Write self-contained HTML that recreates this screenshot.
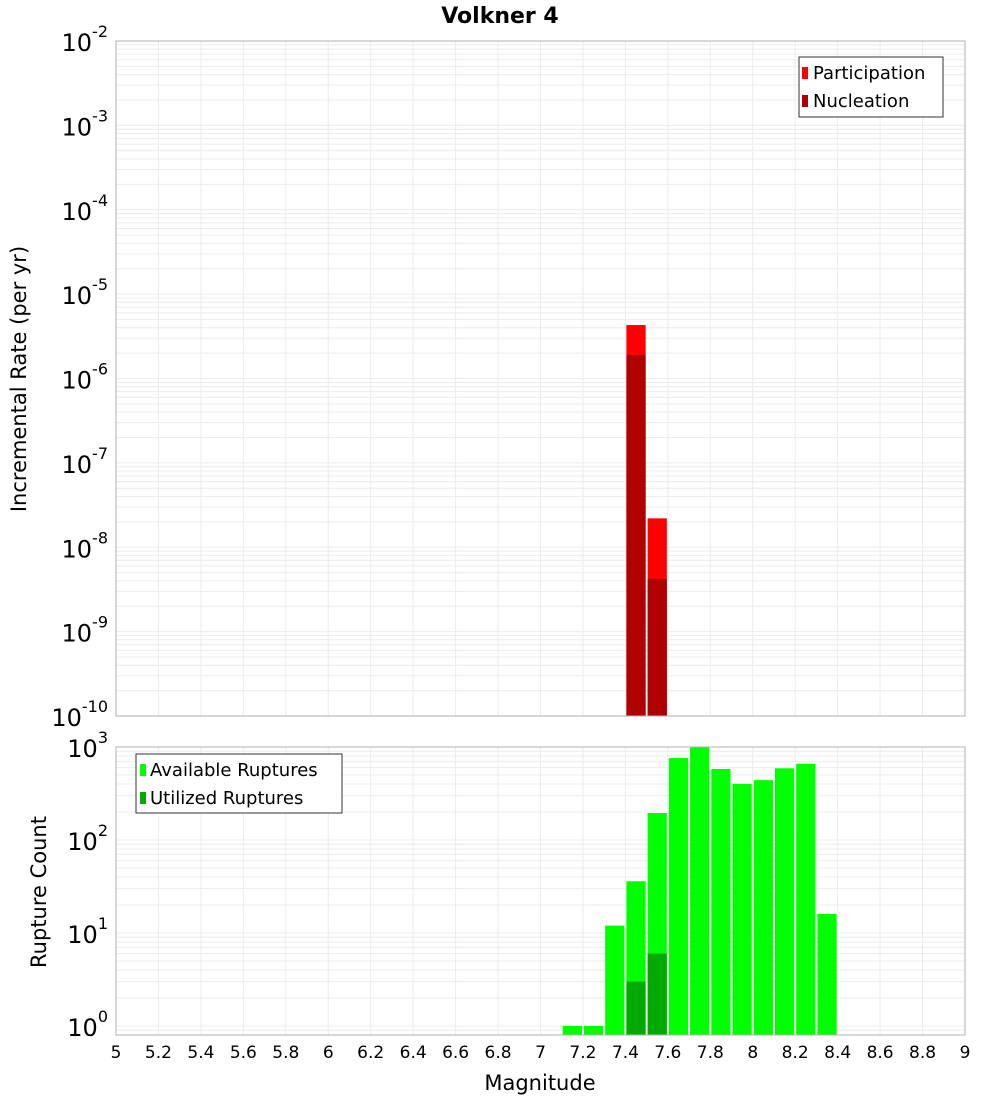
<!DOCTYPE html>
<html><head><meta charset="utf-8"><style>
body{margin:0;background:#fff;font-family:"DejaVu Sans","Liberation Sans",sans-serif;}
svg text{font-family:"DejaVu Sans","Liberation Sans",sans-serif;}
</style></head><body>
<svg id="chart" width="1000" height="1100"></svg>
<script>
const bins = [7.15,7.25,7.35,7.45,7.55,7.65,7.75,7.85,7.95,8.05,8.15,8.25,8.35];
const available = [1,1,12,36,195,760,990,580,400,440,590,660,16];
const utilizedBins = [7.45,7.55];
const utilized = [3,6];
const rateBins = [7.45,7.55];
const participation = [4.3e-6,2.2e-8];
const nucleation = [1.9e-6,4.2e-9];
const xTicks = [5,5.2,5.4,5.6,5.8,6,6.2,6.4,6.6,6.8,7,7.2,7.4,7.6,7.8,8,8.2,8.4,8.6,8.8,9];
const topExp = [-10,-9,-8,-7,-6,-5,-4,-3,-2];
const botExp = [0,1,2,3];

const NS="http://www.w3.org/2000/svg";
const svg=document.getElementById('chart');
function el(t,a,p){const e=document.createElementNS(NS,t);for(const k in a)e.setAttribute(k,a[k]);(p||svg).appendChild(e);return e;}
const X0=116,X1=965;
const xs=v=>X0+(v-5)/4*(X1-X0);
const T0=41,T1=716;
const ys1=v=>T1-(Math.log10(v)+10)/8*(T1-T0);
const B0=747,B1=1035,BMIN=Math.log10(0.8),BMAX=3;
const ys2=v=>B1-(Math.log10(v)-BMIN)/(BMAX-BMIN)*(B1-B0);

function grid(y0,y1,ysf,lo,hi,name){
  const g=el('g',{});
  for(let e=lo;e<=hi;e++)for(let m=1;m<10;m++){const v=m*Math.pow(10,e);const y=ysf(v);if(y<y0-0.5||y>y1+0.5)continue;
    el('line',{x1:X0,x2:X1,y1:y,y2:y,stroke:'#ececec','stroke-width':1},g);}
  xTicks.forEach(t=>{const x=xs(t);el('line',{x1:x,x2:x,y1:y0,y2:y1,stroke:'#ececec','stroke-width':1},g);});
}
grid(T0,T1,ys1,-10,-2,'top-grid');
grid(B0,B1,ys2,-1,3,'bottom-grid');

const bw=0.1*(X1-X0)/4;
function bar(c,v,ysf,base,fill,name){const x=xs(c)-bw/2+1;const y=ysf(v);
  const r=el('rect',{x:x,y:y,width:bw-2,height:base-y,fill:fill});
  }
rateBins.forEach((c,i)=>bar(c,participation[i],ys1,T1,'#ff0000','participation-bar'));
rateBins.forEach((c,i)=>bar(c,nucleation[i],ys1,T1,'#b00000','nucleation-bar'));
bins.forEach((c,i)=>bar(c,available[i],ys2,B1,'#00ff00','available-bar'));
utilizedBins.forEach((c,i)=>bar(c,utilized[i],ys2,B1,'#00aa00','utilized-bar'));

el('rect',{x:X0,y:T0,width:X1-X0,height:T1-T0,fill:'none',stroke:'#b0b0b0'});
el('rect',{x:X0,y:B0,width:X1-X0,height:B1-B0,fill:'none',stroke:'#b0b0b0'});

function ylab(e,y,name){const t=el('text',{x:108,y:y+10,'text-anchor':'end','font-size':24,fill:'#000'});
  
  t.innerHTML='10<tspan dy="-14" font-size="16">'+e+'</tspan>';}
topExp.forEach(e=>ylab(e,ys1(Math.pow(10,e)),'top-y-tick'));
botExp.forEach(e=>ylab(e,ys2(Math.pow(10,e)),'bottom-y-tick'));
xTicks.forEach(t=>{const tx=el('text',{x:xs(t),y:1058,'text-anchor':'middle','font-size':17});
  tx.textContent=String(t);});
</script>
<svg width="1000" height="1100" style="position:absolute;left:0;top:0">
<text x="500" y="23" text-anchor="middle" font-size="22" font-weight="bold">Volkner 4</text>
<text x="540" y="1090" text-anchor="middle" font-size="21">Magnitude</text>
<text transform="translate(26,379) rotate(-90)" text-anchor="middle" font-size="21">Incremental Rate (per yr)</text>
<text transform="translate(46,892) rotate(-90)" text-anchor="middle" font-size="21">Rupture Count</text>
<g>
<rect x="799" y="57" width="144" height="60" fill="#fff" stroke="#333"/>
<rect x="802" y="67" width="6" height="12" fill="#ff0000"/>
<text x="813" y="79" font-size="18">Participation</text>
<rect x="802" y="95" width="6" height="12" fill="#b00000"/>
<text x="813" y="107" font-size="18">Nucleation</text>
</g>
<g>
<rect x="136" y="754" width="206" height="59" fill="#fff" stroke="#333"/>
<rect x="140" y="764" width="6" height="12" fill="#00ff00"/>
<text x="150" y="776" font-size="18">Available Ruptures</text>
<rect x="140" y="792" width="6" height="12" fill="#00aa00"/>
<text x="150" y="804" font-size="18">Utilized Ruptures</text>
</g>
</svg>
</body></html>
